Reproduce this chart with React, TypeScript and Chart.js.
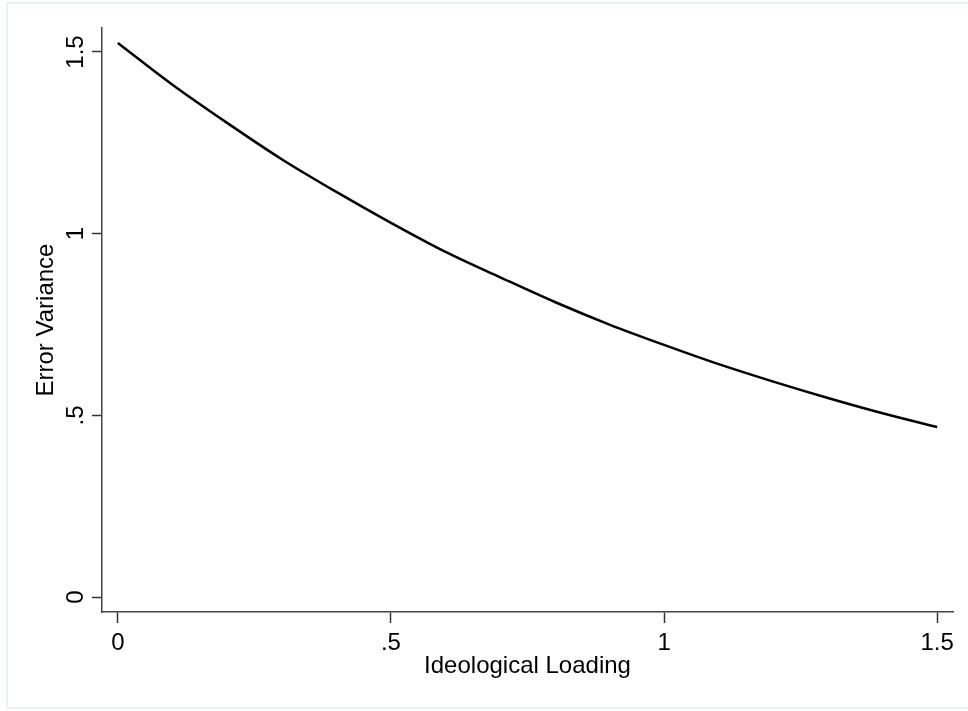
import React, { useEffect, useRef } from "react";
import { Chart, registerables } from "chart.js";

Chart.register(...registerables);

const loadings = [0, 0.1, 0.2, 0.3, 0.4, 0.5, 0.6, 0.7, 0.8, 0.9, 1.0, 1.1, 1.2, 1.3, 1.4, 1.5];
const errorVariance = [1.525, 1.41, 1.305, 1.205, 1.115, 1.03, 0.95, 0.88, 0.812, 0.75, 0.694, 0.641, 0.593, 0.548, 0.506, 0.468];
const xTickValues = [0, 0.5, 1, 1.5];
const xTickLabels = ["0", ".5", "1", "1.5"];
const yTickValues = [0, 0.5, 1, 1.5];
const yTickLabels = ["0", ".5", "1", "1.5"];
const xTitle = "Ideological Loading";
const yTitle = "Error Variance";

const FONT = "'Liberation Sans', Arial, sans-serif";

export default function App() {
  const ref = useRef<HTMLCanvasElement | null>(null);
  useEffect(() => {
    if (!ref.current) return;
    const framePlugin = {
      id: "frame",
      beforeDraw(chart: any) {
        const ctx = chart.ctx;
        ctx.save();
        ctx.fillStyle = "#ffffff";
        ctx.fillRect(0, 0, chart.width, chart.height);
        ctx.strokeStyle = "#eaf1f3";
        ctx.lineWidth = 2;
        ctx.strokeRect(7, 3, 980, 705);
        ctx.restore();
      },
      afterDraw(chart: any) {
        const ctx = chart.ctx;
        const ys = chart.scales.y;
        ctx.save();
        ctx.fillStyle = "#000000";
        ctx.font = `24px ${FONT}`;
        ctx.textAlign = "center";
        ctx.textBaseline = "alphabetic";
        yTickValues.forEach((v, i) => {
          const py = ys.getPixelForValue(v);
          ctx.save();
          ctx.translate(83, py);
          ctx.rotate(-Math.PI / 2);
          ctx.fillText(yTickLabels[i], 0, 0);
          ctx.restore();
        });
        ctx.restore();
      },
    };
    const chart = new Chart(ref.current, {
      type: "line",
      data: {
        datasets: [
          {
            data: loadings.map((x, i) => ({ x, y: errorVariance[i] })),
            borderColor: "#000000",
            borderWidth: 2.5,
            pointRadius: 0,
            fill: false,
            cubicInterpolationMode: "monotone",
          },
        ],
      },
      options: {
        responsive: false,
        animation: false,
        layout: { padding: { left: 0, top: 28, right: 15, bottom: 0 } },
        plugins: { legend: { display: false }, tooltip: { enabled: false } },
        scales: {
          x: {
            type: "linear",
            min: -0.029,
            max: 1.529,
            afterBuildTicks: (s: any) => {
              s.ticks = xTickValues.map((v) => ({ value: v }));
            },
            afterFit: (s: any) => {
              s.height = 99;
              s.paddingLeft = 0;
              s.paddingRight = 0;
            },
            grid: {
              drawOnChartArea: false,
              drawTicks: true,
              tickLength: 11,
              tickColor: "#333333",
              tickWidth: 1.5,
            },
            border: { display: true, color: "#444444", width: 1.5 },
            ticks: {
              color: "#000000",
              font: { family: FONT, size: 24 },
              padding: 6,
              maxRotation: 0,
              minRotation: 0,
              callback: (_v: any, i: number) => xTickLabels[i],
            },
            title: {
              display: true,
              text: xTitle,
              color: "#000000",
              font: { family: FONT, size: 24 },
              padding: { top: 0, bottom: 30 },
            },
          },
          y: {
            type: "linear",
            min: -0.041,
            max: 1.566,
            afterBuildTicks: (s: any) => {
              s.ticks = yTickValues.map((v) => ({ value: v }));
            },
            afterFit: (s: any) => {
              s.width = 102;
              s.paddingTop = 0;
              s.paddingBottom = 0;
            },
            grid: {
              drawOnChartArea: false,
              drawTicks: true,
              tickLength: 10,
              tickColor: "#333333",
              tickWidth: 1.5,
            },
            border: { display: true, color: "#444444", width: 1.5 },
            ticks: {
              display: false,
            },
            title: {
              display: true,
              text: yTitle,
              color: "#000000",
              font: { family: FONT, size: 24 },
              padding: { top: 32, bottom: 0 },
            },
          },
        },
      },
      plugins: [framePlugin],
    });
    return () => chart.destroy();
  }, []);
  return (
    <div style={{ position: "fixed", left: 0, top: 0, width: 968, height: 711, background: "#fff" }}>
      <canvas ref={ref} width={968} height={711} style={{ display: "block" }} />
    </div>
  );
}
